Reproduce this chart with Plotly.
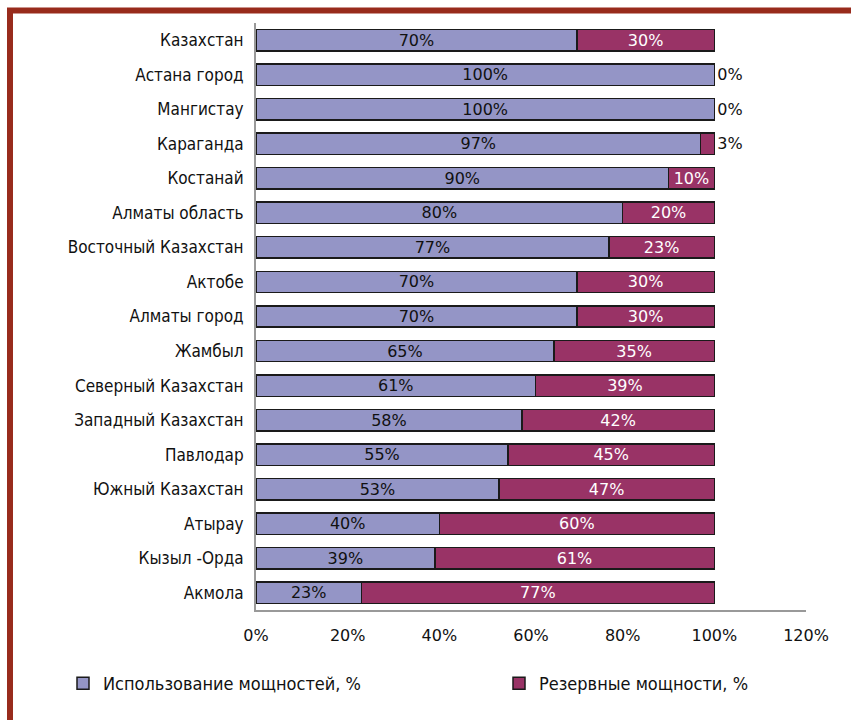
import plotly.graph_objects as go

regions = ["Казахстан", "Астана город", "Мангистау", "Караганда", "Костанай",
           "Алматы область", "Восточный Казахстан", "Актобе", "Алматы город",
           "Жамбыл", "Северный Казахстан", "Западный Казахстан", "Павлодар",
           "Южный Казахстан", "Атырау", "Кызыл -Орда", "Акмола"]
used = [70, 100, 100, 97, 90, 80, 77, 70, 70, 65, 61, 58, 55, 53, 40, 39, 23]
reserve = [30, 0, 0, 3, 10, 20, 23, 30, 30, 35, 39, 42, 45, 47, 60, 61, 77]
x_ticks = [0, 20, 40, 60, 80, 100, 120]

CAT_FONT = "Liberation Sans Narrow, Arial Narrow, DejaVu Sans Condensed, sans-serif"
NUM_FONT = "DejaVu Sans, Verdana, sans-serif"

W, H = 851, 720
L, R, T, B = 256, 45, 23, 110
PW, PH = W - L - R, H - T - B

def px(x):
    return (x - L) / PW

def py(y):
    return (H - B - y) / PH

u = [v / 100 for v in used]
r = [v / 100 for v in reserve]

fig = go.Figure()
fig.add_trace(go.Bar(
    y=regions, x=u, orientation="h", name="Использование мощностей, %",
    marker=dict(color="#9495C6", line=dict(color="#1a1a1a", width=1.5)),
    text=[f"{v}%" for v in used], textposition="inside", insidetextanchor="middle",
    textfont=dict(family=NUM_FONT, size=16, color="#111111"),
    hoverinfo="skip", legend="legend",
))
pos = ["inside" if v >= 10 else "outside" for v in reserve]
fig.add_trace(go.Bar(
    y=regions, x=r, orientation="h", name="Резервные мощности, %",
    marker=dict(color="#993366", line=dict(color="#1a1a1a", width=1.5)),
    text=[f"{v}%" for v in reserve], textposition=pos, insidetextanchor="middle",
    insidetextfont=dict(family=NUM_FONT, size=16, color="#ffffff"),
    outsidetextfont=dict(family=NUM_FONT, size=16, color="#111111"),
    cliponaxis=False, hoverinfo="skip", legend="legend2",
))

leg_common = dict(orientation="h", yanchor="top", y=py(665), xanchor="left",
                  font=dict(family=CAT_FONT, size=18, color="#111111"),
                  bgcolor="rgba(0,0,0,0)")

fig.update_layout(
    width=W, height=H, barmode="stack", bargap=0.38,
    margin=dict(l=L, r=R, t=T, b=B, pad=0, autoexpand=False),
    paper_bgcolor="white", plot_bgcolor="white",
    showlegend=True,
    uniformtext=dict(minsize=16, mode="show"),
    legend=dict(x=px(63), **leg_common),
    legend2=dict(x=px(499), **leg_common),
    xaxis=dict(range=[0, 1.2], tickvals=[v / 100 for v in x_ticks],
               ticktext=[f"{v}%" for v in x_ticks], showgrid=False, zeroline=False,
               showline=True, linecolor="#999999", linewidth=2,
               ticks="", ticklabelstandoff=10,
               tickfont=dict(family=NUM_FONT, size=16, color="#111111")),
    yaxis=dict(autorange="reversed", showgrid=False, zeroline=False,
               showline=True, linecolor="#999999", linewidth=2, ticks="",
               ticklabelstandoff=7,
               tickfont=dict(family=CAT_FONT, size=17, color="#111111")),
    shapes=[dict(type="rect", xref="paper", yref="paper",
                 x0=px(10), x1=px(1000), y0=py(1000), y1=py(10.5),
                 line=dict(color="#982B1C", width=6), fillcolor="rgba(0,0,0,0)",
                 layer="above")],
)

fig.write_html("out.html")
